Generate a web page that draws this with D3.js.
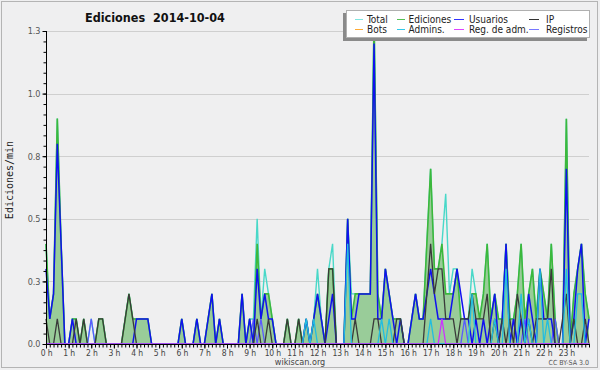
<!DOCTYPE html>
<html><head><meta charset="utf-8">
<script src="https://cdn.jsdelivr.net/npm/d3@7"></script>
<style>
body{margin:0;background:#efeff0;}
svg{display:block;}
.cf{font-family:"DejaVu Sans Condensed","DejaVu Sans",sans-serif;font-stretch:condensed;}
</style></head>
<body><svg id="c" width="600" height="370"></svg>
<script>
// ---- data: 10-minute bins, 0:00 .. 24:00 (145 points) ----
const hourLabels = ["0 h","1 h","2 h","3 h","4 h","5 h","6 h","7 h","8 h","9 h","10 h","11 h","12 h","13 h","14 h","15 h","16 h","17 h","18 h","19 h","20 h","21 h","22 h","23 h"];
const yTickValues = [0, 0.25, 0.5, 0.75, 1.0, 1.25];
const yTickLabels = ["0.0","0.3","0.5","0.8","1.0","1.3"];

const total = [
0.4,0.1,0.2,0.9,0.4,0,  0,0.1,0.1,0,0.1,0,  0.1,0,0.1,0.1,0,0,  0,0,0,0.1,0.2,0.1,
0.1,0.1,0.1,0.1,0,0,  0,0,0,0,0,0,  0.1,0,0,0,0.1,0,  0,0.1,0.2,0,0.1,0,
0,0,0,0,0.2,0,  0.1,0.1,0.5,0.1,0.3,0.2,  0.1,0,0,0,0.1,0,  0,0.1,0,0.1,0,0.1,
0.3,0.1,0,0.3,0.4,0,  0,0,0.5,0.2,0.2,0.2,  0.2,0.2,0.2,1.3,0.2,0.1,  0.3,0.2,0.1,0.1,0.1,0,
0,0.1,0.2,0.1,0.1,0.4,  0.7,0.3,0.3,0.4,0.6,0.2,  0.3,0.3,0.1,0.1,0.1,0.3,  0.2,0.1,0.2,0.4,0.1,0.2,
0.1,0.1,0.4,0.1,0.1,0.2,  0.4,0.1,0.2,0.3,0.1,0.3,  0.2,0.1,0.4,0.1,0,0,  0.9,0,0.2,0.3,0.4,0.2,
0.1];
const ediciones = [
0.4,0.1,0.2,0.9,0.4,0,  0,0.1,0.1,0,0.1,0,  0,0,0.1,0.1,0,0,  0,0,0,0.1,0.2,0.1,
0.1,0.1,0.1,0.1,0,0,  0,0,0,0,0,0,  0.1,0,0,0,0.1,0,  0,0.1,0.2,0,0.1,0,
0,0,0,0,0.2,0,  0.1,0,0.4,0.1,0.2,0.2,  0.1,0,0,0,0.1,0,  0,0.1,0,0.1,0,0.1,
0.2,0.1,0,0.3,0.3,0,  0,0,0.5,0.1,0.2,0.2,  0.2,0.2,0.2,1.3,0.2,0.1,  0.3,0.2,0.1,0.1,0.1,0,
0,0.1,0.2,0.1,0.1,0.4,  0.7,0.3,0.3,0.4,0.2,0.2,  0.2,0.3,0.1,0.1,0.1,0.2,  0.2,0.1,0.2,0.4,0.1,0.2,
0.1,0.1,0.4,0.1,0.1,0.2,  0.4,0.1,0.2,0.3,0.1,0.3,  0.2,0.1,0.4,0.1,0,0,  0.9,0,0.2,0.3,0.4,0.2,
0.1];
const usuarios = [
0.3,0.1,0.2,0.8,0.4,0,  0,0.1,0,0,0,0,  0,0,0,0,0,0,  0,0,0,0,0,0,
0.1,0.1,0.1,0.1,0,0,  0,0,0,0,0,0,  0.1,0,0,0,0.1,0,  0,0.1,0.2,0,0.1,0,
0,0,0,0,0.2,0,  0.1,0,0.3,0.1,0.2,0.1,  0.1,0,0,0,0,0,  0,0,0,0.1,0,0.1,
0.2,0.1,0,0.1,0.2,0,  0,0,0.5,0.1,0.1,0.2,  0.2,0.2,0.2,1.2,0.1,0.1,  0.3,0.2,0.1,0,0.1,0,
0,0.1,0.2,0.1,0.1,0.2,  0.3,0.2,0.1,0.1,0.1,0.1,  0.2,0.3,0.2,0.1,0.1,0,  0.1,0,0.1,0,0.1,0.2,
0,0.1,0.4,0,0.1,0,  0.1,0,0.2,0.1,0,0.3,  0.1,0.1,0.1,0,0,0,  0.7,0,0.1,0.3,0.4,0,
0.1];
const ip = [
0.1,0,0,0.1,0,0,  0,0,0.1,0,0.1,0,  0,0,0.1,0.1,0,0,  0,0,0,0.1,0.2,0.1,
0,0,0,0,0,0,  0,0,0,0,0,0,  0,0,0,0,0,0,  0,0,0,0,0,0,
0,0,0,0,0,0,  0,0,0.1,0,0,0.1,  0,0,0,0,0.1,0,  0,0.1,0,0,0,0,
0,0,0,0.3,0.3,0,  0,0,0,0,0.1,0,  0,0,0,0.1,0.1,0,  0,0,0,0.1,0.1,0,
0,0,0,0,0,0.2,  0.4,0.2,0.3,0.3,0.1,0.1,  0.1,0,0.1,0.1,0.1,0.2,  0.1,0.1,0.1,0.2,0,0.1,
0,0.1,0,0.1,0,0.2,  0.1,0,0.1,0,0.1,0.1,  0.1,0.1,0.3,0,0,0.1,  0.2,0,0.1,0,0,0.1,
0];
const bots = [
0,0,0,0,0,0, 0,0,0,0,0,0, 0,0,0,0,0,0, 0,0,0,0,0,0,
0,0,0,0,0,0, 0,0,0,0,0,0, 0,0,0,0,0,0, 0,0,0,0,0,0,
0,0,0,0,0,0, 0,0,0,0,0,0, 0,0,0,0,0,0, 0,0,0,0,0,0,
0,0,0,0,0,0, 0,0,0,0,0,0, 0,0,0,0,0,0, 0,0,0,0,0,0,
0,0,0,0,0,0, 0,0,0,0,0,0, 0,0,0,0,0,0, 0,0,0,0,0,0,
0,0,0,0,0,0, 0,0,0,0,0,0, 0,0,0,0,0,0, 0,0,0,0,0,0,
0];
const admins = [
0,0,0,0,0,0, 0,0,0,0,0,0, 0,0,0,0,0,0, 0,0,0,0,0,0,
0,0,0,0,0,0, 0,0,0,0,0,0, 0,0,0,0,0,0, 0,0,0,0,0,0,
0,0,0,0,0,0, 0,0,0,0,0,0, 0,0,0,0,0,0, 0,0,0,0.1,0,0.1,
0,0,0,0,0,0, 0,0,0.4,0,0,0, 0,0,0,0,0,0.1, 0,0.1,0,0,0,0,
0,0,0,0,0,0, 0.1,0,0,0,0,0, 0,0,0,0,0,0.2, 0,0,0,0,0,0.1,
0,0,0.3,0,0,0, 0.2,0,0.1,0,0,0.3, 0,0.1,0,0,0,0, 0.3,0,0,0.2,0.2,0,
0];
const regAdm = [
0,0,0,0,0,0, 0,0,0,0,0,0, 0,0,0,0,0,0, 0,0,0,0,0,0,
0,0,0,0,0,0, 0,0,0,0,0,0, 0,0,0,0,0,0, 0,0,0,0,0,0,
0,0,0,0,0,0, 0,0,0,0,0,0, 0,0,0,0,0,0, 0,0,0,0,0,0,
0,0,0,0,0,0, 0,0,0,0,0,0, 0,0,0,0,0,0, 0,0,0,0,0,0,
0,0,0,0,0,0, 0,0,0,0.1,0,0, 0,0,0,0,0,0, 0,0,0,0,0,0,
0,0,0,0,0,0, 0,0,0,0,0,0, 0,0,0,0,0,0, 0,0,0,0,0,0,
0];
const registros = [
0,0,0,0,0,0, 0,0,0,0,0,0, 0.1,0,0,0,0,0, 0,0,0,0,0,0,
0,0,0,0,0,0, 0,0,0,0,0,0, 0,0,0,0,0,0, 0,0,0,0,0,0,
0,0,0,0,0,0, 0,0.1,0,0.1,0,0, 0,0,0,0,0,0, 0,0,0,0,0,0,
0,0,0,0,0,0, 0,0,0,0,0,0, 0,0,0,0,0,0, 0,0,0,0,0,0,
0,0,0,0,0,0, 0,0,0,0,0,0, 0,0,0,0.1,0,0, 0,0,0,0,0,0,
0,0,0,0,0.1,0, 0,0.1,0,0,0,0, 0,0,0,0.1,0,0, 0,0,0,0,0,0,
0];

const legendNames = ["Total","Ediciones","Usuarios","IP","Bots","Admins.","Reg. de adm.","Registros"];
const legendColors = ["#7fe6e0","#55c055","#3333ff","#333333","#ffaa33","#33c8e8","#dd44ff","#7777ff"];

// ---- drawing ----
const svg = d3.select("#c");
const W = 600, H = 370;
const x = d3.scaleLinear().domain([0, 144]).range([46, 589]);
const y = d3.scaleLinear().domain([0, 1.25]).range([344, 31]);

svg.append("rect").attr("x",0).attr("y",0).attr("width",W).attr("height",H).attr("fill","#efeff0");
svg.append("rect").attr("x",1.5).attr("y",1.5).attr("width",596).attr("height",366)
  .attr("fill","none").attr("stroke","#b4b4b4");

// grid
svg.append("g").selectAll("line").data(yTickValues.slice(1)).join("line")
  .attr("x1",x(0)).attr("x2",x(144)).attr("y1",d=>Math.round(y(d))+0.5).attr("y2",d=>Math.round(y(d))+0.5)
  .attr("stroke","#cfcfcf").attr("stroke-width",1);

const line = arr => d3.line().x((d,i)=>x(i)).y(d=>y(d))(arr);
const area = d3.area().x((d,i)=>x(i)).y0(y(0)).y1(d=>y(d));

// total (back)
svg.append("path").attr("d",line(total)).attr("fill","none").attr("stroke","#48d8c8").attr("stroke-width",1.4);
// ediciones area + line
svg.append("path").attr("d",area(ediciones)).attr("fill","#99cc99").attr("stroke","none");
svg.append("path").attr("d",line(ediciones)).attr("fill","none").attr("stroke","#3cb83c").attr("stroke-width",1.6);
svg.append("path").attr("d",line(bots)).attr("fill","none").attr("stroke","#ffaa33").attr("stroke-width",1.2);
svg.append("path").attr("d",line(registros)).attr("fill","none").attr("stroke","#5a5aff").attr("stroke-width",1.3);
svg.append("path").attr("d",line(usuarios)).attr("fill","none").attr("stroke","#1010f0").attr("stroke-width",1.5);
svg.append("path").attr("d",line(ip)).attr("fill","none").attr("stroke","#3a3a3a").attr("stroke-width",1.3);
svg.append("path").attr("d",line(admins)).attr("fill","none").attr("stroke","#22bde0").attr("stroke-width",1.3);
svg.append("path").attr("d",line(regAdm)).attr("fill","none").attr("stroke","#cc33ff").attr("stroke-width",1.3);

// axes
const yMinor = d3.range(0, 31).map(k => k/24);
const gyMinor = svg.append("g").attr("transform","translate(46.5,0)")
  .call(d3.axisLeft(y).tickValues(yMinor).tickSize(3).tickFormat(""));
gyMinor.select(".domain").remove();
const gy = svg.append("g").attr("transform","translate(46.5,0)")
  .call(d3.axisLeft(y).tickValues(yTickValues).tickSize(4).tickPadding(2).tickFormat((d,i)=>yTickLabels[i]));
gy.select(".domain").remove();
gy.selectAll("text").attr("class","cf").attr("font-size",9).attr("fill","#555");
gy.selectAll("line").attr("stroke","#000");
gyMinor.selectAll("line").attr("stroke","#000");

const xMinor = d3.range(0, 145);
const gxMinor = svg.append("g").attr("transform","translate(0,344.5)")
  .call(d3.axisBottom(x).tickValues(xMinor).tickSize(3).tickFormat(""));
gxMinor.select(".domain").remove();
gxMinor.selectAll("line").attr("stroke","#000");
const gx = svg.append("g").attr("transform","translate(0,344.5)")
  .call(d3.axisBottom(x).tickValues(d3.range(0,24).map(h=>h*6)).tickSize(4).tickPadding(1).tickFormat((d,i)=>hourLabels[i]));
gx.select(".domain").remove();
gx.selectAll("line").attr("stroke","#000");
gx.selectAll("text").attr("class","cf").attr("font-size",8.5).attr("letter-spacing",-0.2).attr("fill","#444");

svg.append("line").attr("x1",46.5).attr("x2",46.5).attr("y1",31).attr("y2",345).attr("stroke","#000");
svg.append("line").attr("x1",46).attr("x2",590).attr("y1",344.5).attr("y2",344.5).attr("stroke","#000");

// title & labels
svg.append("text").attr("class","cf").attr("x",85).attr("y",22).attr("font-size",12.5).attr("font-weight","bold")
  .attr("fill","#111").attr("xml:space","preserve").style("white-space","pre").text("Ediciones  2014-10-04");
svg.append("text").attr("transform","translate(13,180) rotate(-90)").attr("text-anchor","middle")
  .attr("font-family","DejaVu Sans Mono, monospace").attr("font-size",10).attr("fill","#222").text("Ediciones/min");
svg.append("text").attr("class","cf").attr("x",300).attr("y",365).attr("text-anchor","middle")
  .attr("font-size",9).attr("fill","#444").text("wikiscan.org");
svg.append("text").attr("class","cf").attr("x",589).attr("y",365).attr("text-anchor","end")
  .attr("font-size",7).attr("fill","#555").text("CC BY-SA 3.0");

// legend
const lg = svg.append("g");
lg.append("rect").attr("x",343).attr("y",13).attr("width",244).attr("height",28).attr("fill","#8a8a8a");
lg.append("rect").attr("x",346.5).attr("y",10.5).attr("width",243).attr("height",27).attr("fill","#fff").attr("stroke","#b0b0b0");
const colSw = [355, 397, 454, 529];
const colTx = [367, 408.5, 469, 546];
legendNames.forEach((n,k)=>{
  const c = k % 4, r = Math.floor(k/4);
  const yy = 19.5 + r*10;
  lg.append("line").attr("x1",colSw[c]).attr("x2",colSw[c] + (c>=2?10:8)).attr("y1",yy).attr("y2",yy)
    .attr("stroke",legendColors[k]).attr("stroke-width",1);
  lg.append("text").attr("class","cf").attr("x",colTx[c]).attr("y",yy+3.5).attr("font-size",10)
    .attr("fill","#222").text(n);
});
</script>
</body></html>
